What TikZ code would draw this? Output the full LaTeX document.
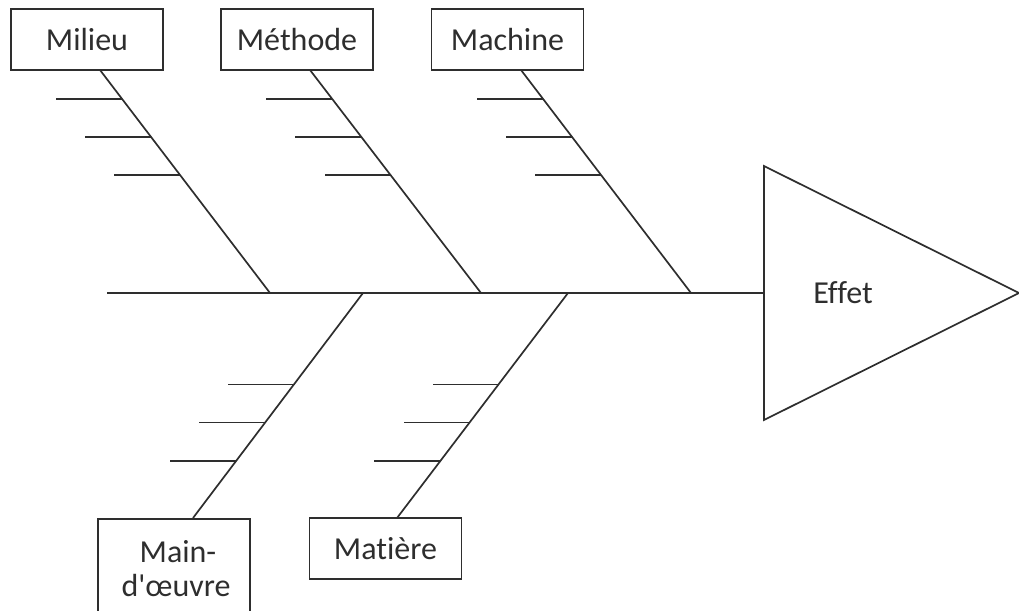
\documentclass[tikz,border=0pt]{standalone}
\usepackage{fontspec}
\setmainfont{Carlito}[Ligatures=NoCommon]
\usetikzlibrary{calc}
\definecolor{ink}{HTML}{2E2E2E}
\begin{document}
\begin{tikzpicture}[x=1pt,y=-1pt,
  line width=1.7pt, draw=ink, text=ink,
  every node/.style={font=\fontsize{32}{36}\selectfont},
  cause/.style={draw, rectangle, minimum width=152pt, minimum height=61pt, inner sep=0pt, align=center},
  bone/.style={draw=ink, line width=1.7pt},
  rib/.style={draw=ink, line width=1.7pt}]
\useasboundingbox (0,0) rectangle (1019,610);

% cause boxes
\node[cause] (milieu)  at (87,39.5)    {\raisebox{-1pt}{Milieu}};
\node[cause] (methode) at (297,39.5)   {\raisebox{-1pt}{Méthode}};
\node[cause] (machine) at (507.5,39.5) {\raisebox{-1pt}{Machine}};
\node[cause] (matiere) at (385.5,548.5){Matière};
\node[cause, minimum height=104pt, anchor=north] (mainoe) at (174,518) {};
\node[anchor=base] (mainl1) at (178,562) {Main-};
\node[anchor=base] (mainl2) at (176,596) {d\textquotesingle œuvre};

% effect head
\coordinate (tA) at (764,166);
\coordinate (tB) at (764,420);
\coordinate (tC) at (1019,293);
\draw[bone] (tA) -- (tC) -- (tB) -- cycle;
\node (effet) at (843,293) {Effet};

% main spine
\coordinate (tail) at (107,293);
\coordinate (head) at (764,293);
\draw[bone] (tail) -- (head);

% upper bones
\coordinate (m1a) at (100,70);  \coordinate (m1b) at (270,293);
\coordinate (m2a) at (310,70);  \coordinate (m2b) at (481,293);
\coordinate (m3a) at (521,70);  \coordinate (m3b) at (691,293);
% lower bones
\coordinate (m4a) at (363,293); \coordinate (m4b) at (193,518);
\coordinate (m5a) at (568,293); \coordinate (m5b) at (397,518);

\foreach \a/\b in {m1a/m1b,m2a/m2b,m3a/m3b,m4a/m4b,m5a/m5b}
  \draw[bone] (\a) -- (\b);

% sub-causes on upper bones
\foreach \a/\b in {m1a/m1b,m2a/m2b,m3a/m3b}
  \foreach \t in {0.130,0.300,0.471}
    \draw[rib] ($(\a)!\t!(\b)$) -- ++(-66,0);

% sub-causes on lower bones
\foreach \a/\b in {m4a/m4b,m5a/m5b}
  \foreach \t in {0.406,0.576,0.746}
    \draw[rib] ($(\a)!\t!(\b)$) -- ++(-66,0);
\end{tikzpicture}
\end{document}
